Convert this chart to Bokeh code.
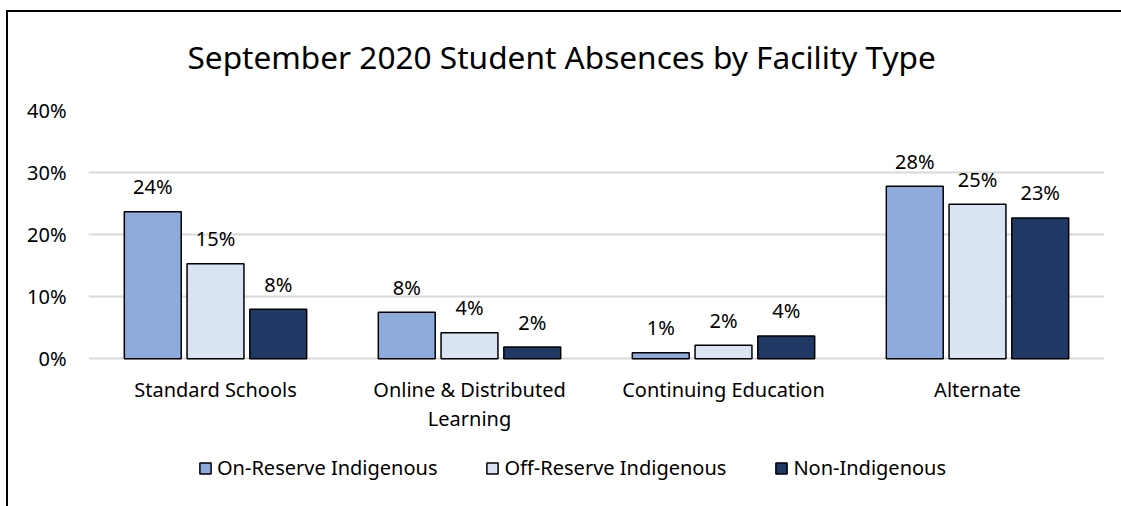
from bokeh.plotting import figure
from bokeh.models import (ColumnDataSource, FactorRange, NumeralTickFormatter, Legend, LegendItem,
                          FixedTicker, InlineStyleSheet)
from bokeh.transform import dodge
from bokeh.core.properties import value
from bokeh.embed import file_html
from bokeh.resources import INLINE

categories = ["Standard Schools", "Online & Distributed Learning", "Continuing Education", "Alternate"]
category_labels = ["Standard Schools", "Online & Distributed\nLearning", "Continuing Education", "Alternate"]
series_names = ["On-Reserve Indigenous", "Off-Reserve Indigenous", "Non-Indigenous"]
on_reserve = [0.237, 0.075, 0.010, 0.278]
off_reserve = [0.153, 0.042, 0.022, 0.249]
non_indigenous = [0.080, 0.019, 0.037, 0.227]
on_reserve_labels = ["24%", "8%", "1%", "28%"]
off_reserve_labels = ["15%", "4%", "2%", "25%"]
non_indigenous_labels = ["8%", "2%", "4%", "23%"]
y_ticks = [0, 0.1, 0.2, 0.3, 0.4]

colors = ["#8FAADC", "#DAE3F3", "#203864"]
FONT = "Noto Sans"

line1 = [c.split("\n")[0] for c in category_labels]
line2 = [c.split("\n")[1] if "\n" in c else "" for c in category_labels]

src = ColumnDataSource(dict(
    cat=categories,
    on=on_reserve, off=off_reserve, non=non_indigenous,
    on_l=on_reserve_labels, off_l=off_reserve_labels, non_l=non_indigenous_labels,
    zero=[0] * len(categories), l1=line1, l2=line2,
))

# left and top edges of the chart box, drawn over the canvas (figure host only)
box_css = InlineStyleSheet(css="""
:host(.chartbox)::before {
  content: "";
  position: absolute;
  left: 6px; top: 10px; width: 2px; height: 496px;
  background: #000;
  pointer-events: none;
  z-index: 100;
}
:host(.chartbox)::after {
  content: "";
  position: absolute;
  left: 6px; top: 10px; width: 1115px; height: 2px;
  background: #000;
  pointer-events: none;
  z-index: 100;
}
""")

p = figure(x_range=FactorRange(*categories, range_padding=0), y_range=(-0.2281, 0.4),
           width=1121, height=506, output_backend="svg", toolbar_location=None,
           min_border_left=88, min_border_right=17, min_border_top=109, min_border_bottom=6,
           title="September 2020 Student Absences by Facility Type",
           stylesheets=[box_css], css_classes=["chartbox"])
p.outline_line_color = None
p.background_fill_color = "white"
p.border_fill_color = "white"

p.title.align = "left"
p.title.offset = 99
p.title.text_font = FONT
p.title.text_font_size = "31.6px"
p.title.text_font_style = "normal"
p.title.text_color = "black"
p.title.standoff = 65

offsets = [-0.247, 0.0, 0.247]
fields = ["on", "off", "non"]
lfields = ["on_l", "off_l", "non_l"]
renderers = []
for off, fld, lf, col in zip(offsets, fields, lfields, colors):
    r = p.vbar(x=dodge("cat", off, range=p.x_range), top=fld, width=0.224, bottom=0,
               source=src, fill_color=col, line_color="black", line_width=1.5)
    renderers.append(r)
    p.text(x=dodge("cat", off, range=p.x_range), y=fld, text=lf, source=src,
           text_align="center", text_baseline="alphabetic", y_offset=-25,
           text_font=value(FONT), text_font_size="20px", text_color="black")

# category labels (two lines where needed)
p.text(x="cat", y="zero", text="l1", source=src, text_align="center", text_baseline="alphabetic",
       y_offset=31, text_font=value(FONT), text_font_size="20px", text_color="black")
p.text(x="cat", y="zero", text="l2", source=src, text_align="center", text_baseline="alphabetic",
       y_offset=60, text_font=value(FONT), text_font_size="20px", text_color="black")

p.xaxis.visible = False

p.yaxis.ticker = FixedTicker(ticks=y_ticks)
p.yaxis.formatter = NumeralTickFormatter(format="0%")
p.yaxis.axis_line_color = None
p.yaxis.major_tick_line_color = None
p.yaxis.major_tick_out = 0
p.yaxis.major_tick_in = 0
p.yaxis.minor_tick_line_color = None
p.yaxis.major_label_text_font = FONT
p.yaxis.major_label_text_font_size = "20px"
p.yaxis.major_label_text_color = "black"
p.yaxis.major_label_standoff = 22

p.xgrid.grid_line_color = None
p.ygrid.ticker = FixedTicker(ticks=y_ticks)
p.ygrid.grid_line_color = "#d9d9d9"
p.ygrid.grid_line_width = 2

legend = Legend(items=[LegendItem(label=n, renderers=[r]) for n, r in zip(series_names, renderers)],
                orientation="horizontal", location=(110, 19))
legend.label_text_font = FONT
legend.label_text_font_size = "20px"
legend.label_text_color = "black"
legend.glyph_width = 14
legend.glyph_height = 14
legend.label_standoff = 5
legend.spacing = 48
legend.border_line_color = None
legend.background_fill_alpha = 0
legend.padding = 4
legend.margin = 0
p.add_layout(legend, "center")

open("out.html", "w").write(file_html(p, INLINE))
